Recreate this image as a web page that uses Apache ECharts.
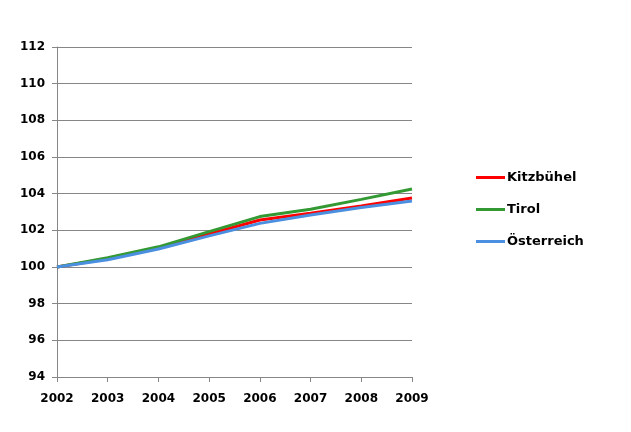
<!DOCTYPE html>
<html>
<head>
<meta charset="utf-8">
<script src="https://cdn.jsdelivr.net/npm/echarts@6/dist/echarts.min.js"></script>
<style>html,body{margin:0;padding:0;background:#fff}#c{width:631px;height:432px}</style>
</head>
<body>
<div id="c"></div>
<script>
var years = ['2002','2003','2004','2005','2006','2007','2008','2009'];
var kitzbuehel = [100, 100.45, 101.02, 101.8, 102.56, 102.93, 103.33, 103.76];
var tirol = [100, 100.5, 101.1, 101.93, 102.75, 103.15, 103.69, 104.25];
var oesterreich = [100, 100.4, 100.98, 101.7, 102.38, 102.84, 103.24, 103.6];
var seriesNames = ['Kitzbühel', 'Tirol', 'Österreich'];
var colors = ['#ff0000', '#339933', '#4a8fe0'];

var font = {fontFamily: 'DejaVu Sans', fontWeight: 'bold', fontSize: 12, color: '#000'};
var chart = echarts.init(document.getElementById('c'), null, {renderer: 'canvas'});
function mk(name, data, color) {
  return {name: name, type: 'line', data: data, symbol: 'none', smooth: false,
    lineStyle: {width: 3, color: color}, itemStyle: {color: color}};
}
chart.setOption({
  animation: false,
  backgroundColor: '#fff',
  grid: {left: 57, right: 219, top: 47, bottom: 55, containLabel: false},
  legend: {
    orient: 'vertical', left: 476, top: 171, padding: 0, icon: 'rect', itemWidth: 29, itemHeight: 3,
    itemGap: 19, textStyle: Object.assign({}, font, {fontSize: 13, padding: [0,0,0,-3]}),
    data: seriesNames
  },
  xAxis: {
    type: 'category', data: years, boundaryGap: false,
    axisLine: {lineStyle: {color: '#868686', width: 1}},
    axisTick: {show: true, alignWithLabel: true, length: 5, lineStyle: {color: '#868686'}},
    axisLabel: Object.assign({margin: 16}, font),
    splitLine: {show: false}
  },
  yAxis: {
    type: 'value', min: 94, max: 112, interval: 2,
    axisLine: {show: true, lineStyle: {color: '#868686', width: 1}},
    axisTick: {show: true, length: 5, lineStyle: {color: '#868686'}},
    axisLabel: Object.assign({margin: 12}, font),
    splitLine: {show: true, lineStyle: {color: '#868686', width: 1}}
  },
  series: [
    mk(seriesNames[0], kitzbuehel, colors[0]),
    mk(seriesNames[1], tirol, colors[1]),
    mk(seriesNames[2], oesterreich, colors[2])
  ]
});
</script>
</body>
</html>
